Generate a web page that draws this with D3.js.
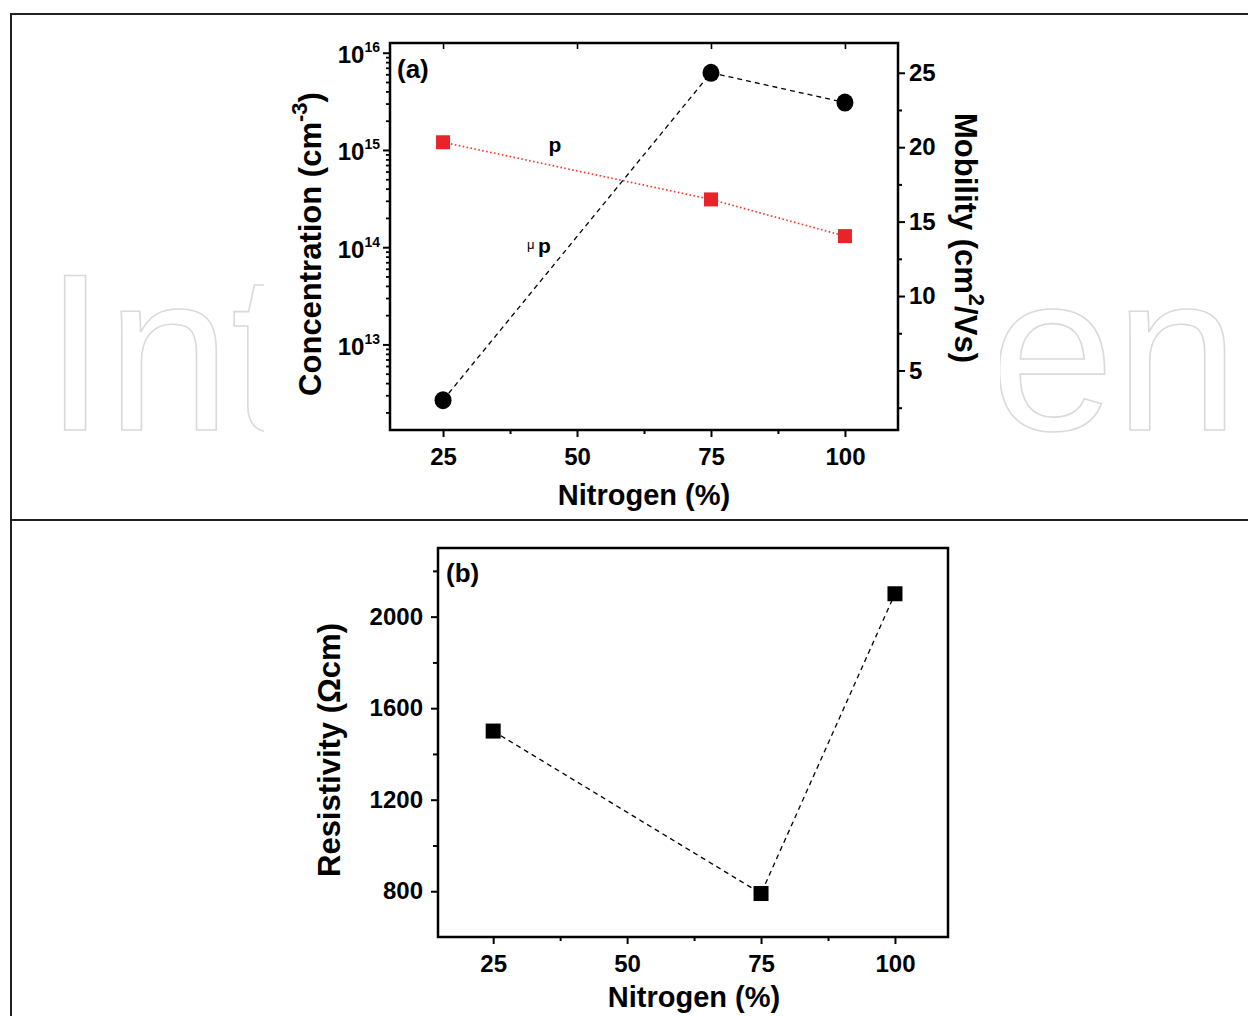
<!DOCTYPE html>
<html>
<head>
<meta charset="utf-8">
<script src="https://cdn.jsdelivr.net/npm/d3@7"></script>
<style>
  body { margin: 0; background: #fff; }
  text { font-family: "Liberation Sans", Arial, Helvetica, sans-serif; }
</style>
</head>
<body>
<svg id="fig" width="1248" height="1016"></svg>
<script>
// Electrical properties of the films versus nitrogen content
const nitrogen = [25, 75, 100];
const concentration = [1.2e15, 3.1e14, 1.3e14];   // hole concentration p (cm^-3)
const mobility = [3.0, 25.0, 23.0];               // hole mobility (cm^2/Vs)
const resistivity = [1500, 790, 2100];            // resistivity (Ohm cm)

const nitrogenTicks = [25, 50, 75, 100];
const nitrogenMinorTicks = [37.5, 62.5, 87.5];
const concentrationExponents = [13, 14, 15, 16];
const mobilityTicks = [5, 10, 15, 20, 25];
const mobilityMinorTicks = [2.5, 7.5, 12.5, 17.5, 22.5];
const resistivityTicks = [800, 1200, 1600, 2000];
const resistivityMinorTicks = [1000, 1400, 1800, 2200];

const svg = d3.select("#fig");
const FONT = '"Liberation Sans", Arial, Helvetica, sans-serif';

// ---- faint publisher watermark behind panel (a) ----
const wm = svg.append("g").attr("fill", "#fff").attr("stroke", "#dadada")
  .attr("stroke-width", 1.6).style("font-size", "224px").style("font-weight", 300)
  .style("font-family", 'Lato, "Open Sans", Roboto, sans-serif');
wm.append("text").attr("x", 44).attr("y", 430).text("Int");
wm.append("text").attr("x", 990).attr("y", 430).text("en");
svg.append("rect").attr("x", 264).attr("y", 30).attr("width", 736).attr("height", 480).attr("fill", "#fff");

// ---- panel borders ----
svg.append("path")
  .attr("d", "M11,1020 L11,14 L1252,14 M11,520 L1252,520")
  .attr("fill", "none").attr("stroke", "#222").attr("stroke-width", 2);

function styleAxis(g, width) {
  g.select(".domain").remove();
  g.selectAll(".tick line").attr("stroke", "#000").attr("stroke-width", width || 2);
  g.selectAll(".tick text")
    .attr("fill", "#000")
    .style("font-family", FONT)
    .style("font-size", "24px")
    .style("font-weight", "bold");
}

// ================= panel (a) =================
const A = { left: 390, right: 898, top: 43, bottom: 430 };
const xA = d3.scaleLinear().domain([15.1, 109.9]).range([A.left, A.right]);
const yConc = d3.scaleLog().domain([Math.pow(10, 12.12), Math.pow(10, 16.1)]).range([A.bottom, A.top]);
const yMob = d3.scaleLinear().domain([1, 27]).range([A.bottom, A.top]);

const gA = svg.append("g");

// bottom axis
gA.append("g").attr("transform", `translate(0,${A.bottom})`)
  .call(d3.axisBottom(xA).tickValues(nitrogenTicks).tickSize(7).tickPadding(11))
  .call(g => styleAxis(g));
gA.append("g").attr("transform", `translate(0,${A.bottom})`)
  .call(d3.axisBottom(xA).tickValues(nitrogenMinorTicks).tickSize(4).tickFormat(""))
  .call(g => styleAxis(g));
// top mirror ticks (inward)
gA.append("g").attr("transform", `translate(0,${A.top})`)
  .call(d3.axisBottom(xA).tickValues(nitrogenTicks).tickSize(6).tickFormat(""))
  .call(g => styleAxis(g, 1.6));

// left log axis: concentration
const concMajor = concentrationExponents.map(e => Math.pow(10, e));
const concMinor = [];
for (let d = 12; d <= 16; d++) {
  for (let k = 2; k <= 9; k++) {
    const v = k * Math.pow(10, d);
    const [lo, hi] = yConc.domain();
    if (v >= lo && v <= hi) concMinor.push(v);
  }
}
gA.append("g").attr("transform", `translate(${A.left},0)`)
  .call(d3.axisLeft(yConc).tickValues(concMinor).tickSize(4).tickFormat(""))
  .call(g => styleAxis(g, 1.8));
const leftAx = gA.append("g").attr("transform", `translate(${A.left},0)`)
  .call(d3.axisLeft(yConc).tickValues(concMajor).tickSize(7).tickFormat(""))
  .call(g => styleAxis(g));
leftAx.selectAll(".tick").each(function (d) {
  const t = d3.select(this).append("text")
    .attr("x", -10).attr("y", 10)
    .attr("text-anchor", "end").attr("fill", "#000")
    .style("font-family", FONT).style("font-weight", "bold").style("font-size", "24px");
  t.append("tspan").text("10");
  t.append("tspan").style("font-size", "14px").attr("dy", -11)
    .text(Math.round(Math.log10(d)));
});

// right axis: mobility
gA.append("g").attr("transform", `translate(${A.right},0)`)
  .call(d3.axisRight(yMob).tickValues(mobilityTicks).tickSize(7).tickPadding(4))
  .call(g => styleAxis(g));
gA.append("g").attr("transform", `translate(${A.right},0)`)
  .call(d3.axisRight(yMob).tickValues(mobilityMinorTicks).tickSize(4).tickFormat(""))
  .call(g => styleAxis(g));

// frame
gA.append("rect").attr("x", A.left).attr("y", A.top)
  .attr("width", A.right - A.left).attr("height", A.bottom - A.top)
  .attr("fill", "none").attr("stroke", "#000").attr("stroke-width", 2.5);

// series: concentration (red, dotted)
const concPts = nitrogen.map((n, i) => [xA(n), yConc(concentration[i])]);
gA.append("path").attr("d", d3.line()(concPts))
  .attr("fill", "none").attr("stroke", "#f03c2e").attr("stroke-width", 1.7)
  .attr("stroke-dasharray", "1.6,2.4");
gA.selectAll("rect.conc").data(concPts).join("rect").attr("class", "conc")
  .attr("x", d => d[0] - 7).attr("y", d => d[1] - 7)
  .attr("width", 14).attr("height", 14).attr("fill", "#e8232a");

// series: mobility (black, dashed)
const mobPts = nitrogen.map((n, i) => [xA(n), yMob(mobility[i])]);
gA.append("path").attr("d", d3.line()(mobPts))
  .attr("fill", "none").attr("stroke", "#000").attr("stroke-width", 1.3)
  .attr("stroke-dasharray", "5,4");
gA.selectAll("ellipse.mob").data(mobPts).join("ellipse").attr("class", "mob")
  .attr("cx", d => d[0]).attr("cy", d => d[1])
  .attr("rx", 8.5).attr("ry", 9).attr("fill", "#000");

// annotations
gA.append("text").attr("x", 555).attr("y", 152).attr("text-anchor", "middle")
  .style("font-size", "21px").style("font-weight", "bold").text("p");
gA.append("text").attr("x", 527).attr("y", 249)
  .style("font-size", "13px").text("μ");
gA.append("text").attr("x", 538).attr("y", 253)
  .style("font-size", "21px").style("font-weight", "bold").text("p");

gA.append("text").attr("x", 397).attr("y", 78)
  .style("font-size", "26px").style("font-weight", "bold").text("(a)");

// axis titles
gA.append("text").attr("x", 644).attr("y", 505).attr("text-anchor", "middle")
  .style("font-size", "29px").style("font-weight", "bold").text("Nitrogen (%)");

const concTitle = gA.append("text")
  .attr("transform", "translate(321,244) rotate(-90)").attr("text-anchor", "middle")
  .style("font-size", "31px").style("font-weight", "bold");
concTitle.append("tspan").text("Concentration (cm");
concTitle.append("tspan").style("font-size", "22px").attr("dy", -14).text("-3");
concTitle.append("tspan").attr("dy", 14).text(")");

const mobTitle = gA.append("text")
  .attr("transform", "translate(955,238) rotate(90)").attr("text-anchor", "middle")
  .style("font-size", "31px").style("font-weight", "bold");
mobTitle.append("tspan").text("Mobility (cm");
mobTitle.append("tspan").style("font-size", "22px").attr("dy", -14).text("2");
mobTitle.append("tspan").attr("dy", 14).text("/Vs)");

// ================= panel (b) =================
const B = { left: 438, right: 948, top: 548, bottom: 937 };
const xB = d3.scaleLinear().domain([14.7, 109.9]).range([B.left, B.right]);
const yRes = d3.scaleLinear().domain([600, 2300]).range([B.bottom, B.top]);

const gB = svg.append("g");
gB.append("g").attr("transform", `translate(0,${B.bottom})`)
  .call(d3.axisBottom(xB).tickValues(nitrogenTicks).tickSize(7).tickPadding(11))
  .call(g => styleAxis(g));
gB.append("g").attr("transform", `translate(0,${B.bottom})`)
  .call(d3.axisBottom(xB).tickValues(nitrogenMinorTicks).tickSize(4).tickFormat(""))
  .call(g => styleAxis(g));
gB.append("g").attr("transform", `translate(${B.left},0)`)
  .call(d3.axisLeft(yRes).tickValues(resistivityTicks).tickSize(7).tickPadding(8).tickFormat(d3.format("d")))
  .call(g => styleAxis(g));
gB.append("g").attr("transform", `translate(${B.left},0)`)
  .call(d3.axisLeft(yRes).tickValues(resistivityMinorTicks).tickSize(5).tickFormat(""))
  .call(g => styleAxis(g));

gB.append("rect").attr("x", B.left).attr("y", B.top)
  .attr("width", B.right - B.left).attr("height", B.bottom - B.top)
  .attr("fill", "none").attr("stroke", "#000").attr("stroke-width", 2.5);

const resPts = nitrogen.map((n, i) => [xB(n), yRes(resistivity[i])]);
gB.append("path").attr("d", d3.line()(resPts))
  .attr("fill", "none").attr("stroke", "#000").attr("stroke-width", 1.3)
  .attr("stroke-dasharray", "5,4");
gB.selectAll("rect.res").data(resPts).join("rect").attr("class", "res")
  .attr("x", d => d[0] - 7.5).attr("y", d => d[1] - 7.5)
  .attr("width", 15).attr("height", 15).attr("fill", "#000");

gB.append("text").attr("x", 446).attr("y", 582)
  .style("font-size", "26px").style("font-weight", "bold").text("(b)");

gB.append("text").attr("x", 694).attr("y", 1007).attr("text-anchor", "middle")
  .style("font-size", "29px").style("font-weight", "bold").text("Nitrogen (%)");
gB.append("text")
  .attr("transform", "translate(340,750) rotate(-90)").attr("text-anchor", "middle")
  .style("font-size", "31px").style("font-weight", "bold").text("Resistivity (Ωcm)");
</script>
</body>
</html>
